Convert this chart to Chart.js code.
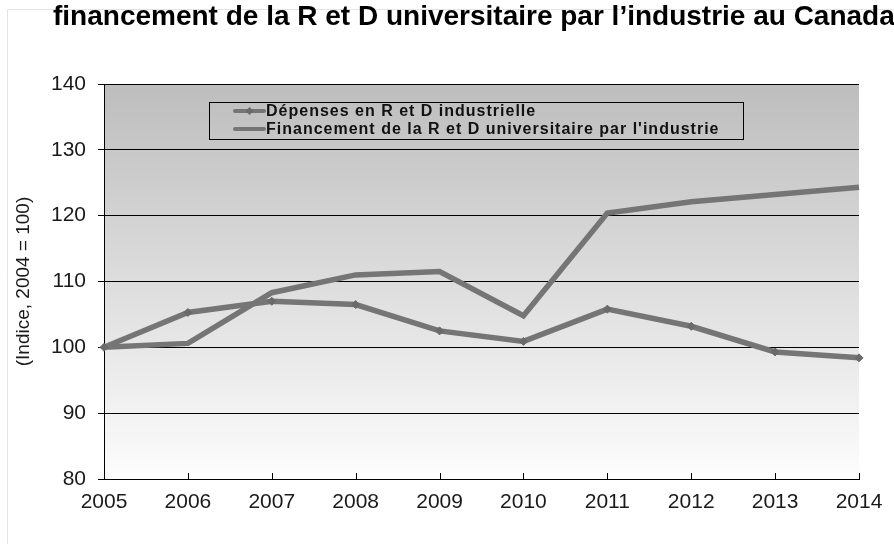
<!DOCTYPE html>
<html>
<head>
<meta charset="utf-8">
<script src="https://cdn.jsdelivr.net/npm/chart.js@4/dist/chart.umd.min.js"></script>
<style>
  html, body { margin: 0; padding: 0; background: #fff; }
  #wrap { width: 894px; height: 544px; }
</style>
</head>
<body>
<div id="wrap"><canvas id="rdChart" width="894" height="544"></canvas></div>
<script>
// values
const years = ["2005", "2006", "2007", "2008", "2009", "2010", "2011", "2012", "2013", "2014"];
const depensesIndustrielles = [100, 105.3, 107.0, 106.5, 102.5, 100.9, 105.8, 103.2, 99.3, 98.4];
const financementUniversitaire = [100, 100.6, 108.3, 111.0, 111.5, 104.8, 120.4, 122.1, 123.2, 124.3];

const titleText = "financement de la R et D universitaire par l\u2019industrie au Canada";
const yTitle = "(Indice, 2004 = 100)";
const FONT = '"Liberation Sans", Arial, sans-serif';
const LINE_GREY = "#757575";

// plot background gradient + faint outer frame
const backdrop = {
  id: "backdrop",
  beforeDraw(chart) {
    const { ctx, chartArea: a } = chart;
    ctx.save();
    ctx.strokeStyle = "#e4e4e4";
    ctx.lineWidth = 1;
    ctx.beginPath();
    ctx.moveTo(7.5, 600);
    ctx.lineTo(7.5, 9.5);
    ctx.lineTo(900, 9.5);
    ctx.stroke();
    const g = ctx.createLinearGradient(0, a.top, 0, a.bottom);
    g.addColorStop(0, "#bdbdbd");
    g.addColorStop(1, "#fdfdfd");
    ctx.fillStyle = g;
    ctx.fillRect(a.left, a.top, a.right - a.left, a.bottom - a.top);
    ctx.restore();
  }
};

// title that runs off the right edge, like the original
const overflowTitle = {
  id: "overflowTitle",
  afterDraw(chart) {
    const ctx = chart.ctx;
    ctx.save();
    ctx.font = "bold 28px " + FONT;
    ctx.fillStyle = "#000";
    ctx.textBaseline = "alphabetic";
    ctx.textAlign = "left";
    ctx.fillText(titleText, 53, 25);
    ctx.restore();
  }
};

// small inward tick marks on the x axis
const innerTicks = {
  id: "innerTicks",
  afterDatasetsDraw(chart) {
    const { ctx, chartArea: a } = chart;
    const xs = chart.scales.x;
    ctx.save();
    ctx.strokeStyle = "#000";
    ctx.lineWidth = 1;
    xs.ticks.forEach((t, i) => {
      const px = Math.round(xs.getPixelForTick(i)) + 0.5;
      ctx.beginPath();
      ctx.moveTo(px, a.bottom);
      ctx.lineTo(px, a.bottom - 6);
      ctx.stroke();
    });
    ctx.restore();
  }
};

// boxed legend sitting inside the plot
const boxLegend = {
  id: "boxLegend",
  afterDraw(chart) {
    const ctx = chart.ctx;
    const box = { x: 209.5, y: 102.5, w: 534, h: 37 };
    ctx.save();
    ctx.strokeStyle = "#000";
    ctx.lineWidth = 1;
    ctx.strokeRect(box.x, box.y, box.w, box.h);
    ctx.font = "bold 16px " + FONT;
    ctx.letterSpacing = "1px";
    ctx.textBaseline = "middle";
    chart.data.datasets.forEach((ds, i) => {
      const cy = 111 + i * 18;
      ctx.strokeStyle = ds.borderColor;
      ctx.lineWidth = 4;
      ctx.lineCap = "round";
      ctx.beginPath();
      ctx.moveTo(235, cy);
      ctx.lineTo(264, cy);
      ctx.stroke();
      if (ds.pointRadius > 0) {
        ctx.fillStyle = ds.pointBackgroundColor;
        ctx.beginPath();
        ctx.moveTo(249.5, cy - 4);
        ctx.lineTo(253.5, cy);
        ctx.lineTo(249.5, cy + 4);
        ctx.lineTo(245.5, cy);
        ctx.closePath();
        ctx.fill();
      }
      ctx.fillStyle = "#111";
      ctx.fillText(ds.label, 266, cy + 1);
    });
    ctx.restore();
  }
};

new Chart(document.getElementById("rdChart").getContext("2d"), {
  type: "line",
  data: {
    labels: years,
    datasets: [
      {
        label: "Dépenses en R et D industrielle",
        data: depensesIndustrielles,
        borderColor: LINE_GREY,
        backgroundColor: LINE_GREY,
        borderWidth: 5.5,
        pointStyle: "rectRot",
        pointRadius: 4,
        pointBackgroundColor: "#6a6a6a",
        pointBorderColor: "#6a6a6a",
        pointBorderWidth: 1,
        tension: 0
      },
      {
        label: "Financement de la R et D universitaire par l'industrie",
        data: financementUniversitaire,
        borderColor: LINE_GREY,
        backgroundColor: LINE_GREY,
        borderWidth: 5.5,
        pointRadius: 0,
        pointBackgroundColor: LINE_GREY,
        tension: 0
      }
    ]
  },
  options: {
    responsive: false,
    animation: false,
    layout: { padding: { top: 84, left: 0, right: 35, bottom: 0 } },
    plugins: {
      legend: { display: false },
      title: { display: false },
      tooltip: { enabled: false }
    },
    scales: {
      x: {
        offset: false,
        afterFit(scale) { scale.height = 65; },
        grid: { display: false },
        border: { display: true, color: "#000", width: 1 },
        ticks: { color: "#1a1a1a", padding: 3, font: { family: FONT, size: 21 } }
      },
      y: {
        min: 80,
        max: 140,
        afterFit(scale) { scale.width = 104; },
        ticks: { stepSize: 10, color: "#1a1a1a", padding: 12, font: { family: FONT, size: 21 } },
        grid: { color: "#000", lineWidth: 1, tickLength: 6 },
        border: { display: true, color: "#000", width: 1 },
        title: {
          display: true,
          text: yTitle,
          color: "#1a1a1a",
          padding: { top: 12, bottom: 0 },
          font: { family: FONT, size: 19 }
        }
      }
    }
  },
  plugins: [backdrop, innerTicks, boxLegend, overflowTitle]
});
</script>
</body>
</html>
